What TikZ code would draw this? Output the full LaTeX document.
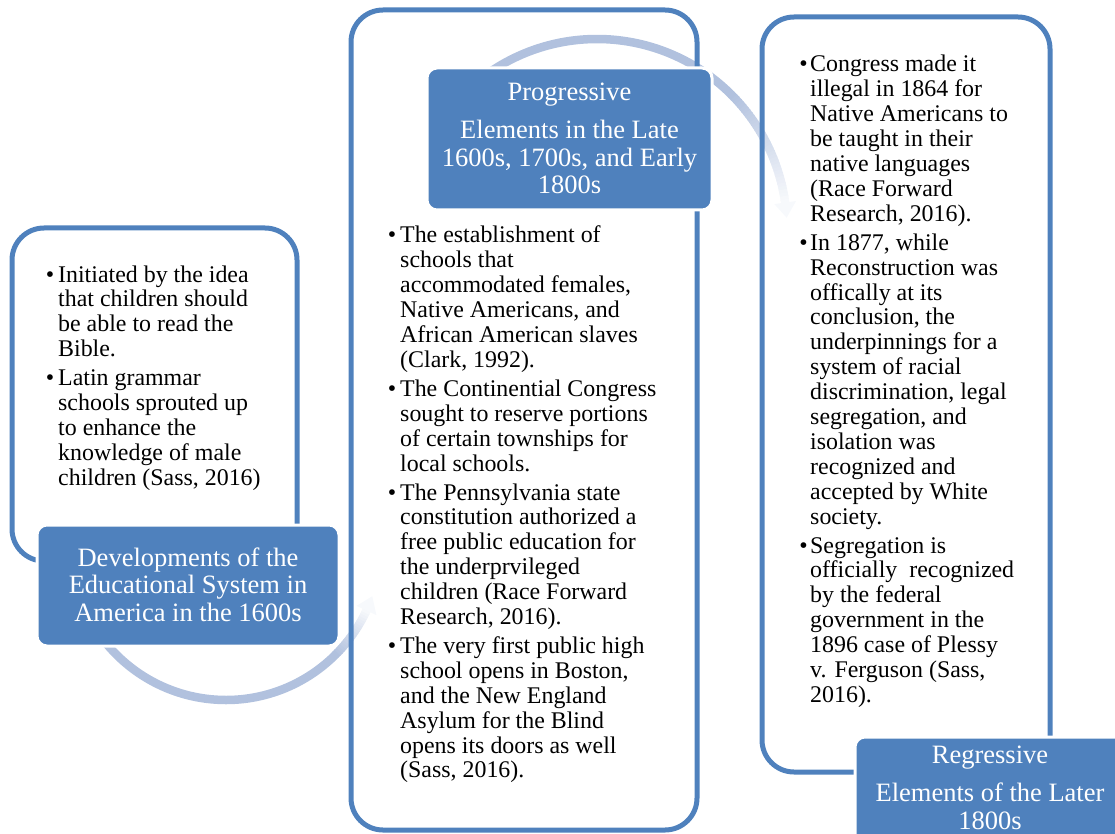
\documentclass[tikz,border=0pt]{standalone}
\usepackage{fontspec}
\setmainfont{Liberation Serif}
\usetikzlibrary{calc}

\definecolor{boxblue}{RGB}{79,129,189}
\definecolor{arcblue}{RGB}{177,193,222}

% bullet lists: hanging bullet in front of each item
\newlength\bulgap
\newcommand\itm{\par\noindent\llap{\textbullet\hspace{\bulgap}}}
\newcommand\bodyfont{\fontsize{23.9}{24.9}\selectfont}
\newcommand\headfont{\fontsize{26.5}{27.5}\selectfont}

\begin{document}
\begin{tikzpicture}[x=1pt,y=-1pt,
  panel/.style={draw=boxblue, line width=5pt, rounded corners=32pt, inner sep=0pt},
  headbox/.style={fill=boxblue, draw=white, line width=3pt, rounded corners=10pt, inner sep=0pt},
  headtext/.style={anchor=base, inner sep=0pt, text=white},
  bodytext/.style={anchor=base west, inner sep=0pt},
  arcline/.style={line width=8.5pt},
]
\useasboundingbox (0,0) rectangle (1115,834);
\clip (0,0) rectangle (1115,834);

% centres of the two circular arrows
\coordinate (c1) at (226,545);
\coordinate (c2) at (597,229);

% lower circular arrow, fading towards its head
\draw[arcline, arcblue] (c1) ++(150:155) arc[start angle=150, end angle=44.8, radius=155];
\foreach \a in {45,44,...,26}{
  \pgfmathtruncatemacro\pct{8+92*(\a-25)/20}
  \draw[arcline, arcblue!\pct!white] (c1) ++(\a:155) arc[start angle=\a, end angle=\a-1.25, radius=155];
}
\fill[arcblue!10!white] ($(c1)+(25:166)$) -- ($(c1)+(25:144)$) -- ($(c1)+(19.3:155)$) -- cycle;

% upper circular arrow, fading towards its head
\draw[arcline, arcblue] (c2) ++(235:190) arc[start angle=235, end angle=315.2, radius=190];
\foreach \a in {315,316,...,351}{
  \pgfmathtruncatemacro\pct{8+92*(352-\a)/37}
  \draw[arcline, arcblue!\pct!white] (c2) ++(\a:190) arc[start angle=\a, end angle=\a+1.25, radius=190];
}
\fill[arcblue!10!white] ($(c2)+(352:201)$) -- ($(c2)+(352:179)$) -- ($(c2)+(356.6:190)$) -- cycle;

% outlined panels
\node[panel, minimum width=285pt, minimum height=333pt] (p1) at (154.5,394.5) {};
\node[panel, minimum width=346pt, minimum height=820pt] (p2) at (524,420) {};
\node[panel, minimum width=288pt, minimum height=755pt] (p3) at (906,394.5) {};

% filled heading boxes
\node[headbox, minimum width=302pt, minimum height=121pt] (h1) at (188,585.5) {};
\node[headbox, minimum width=285pt, minimum height=142pt] (h2) at (569.5,139) {};
\node[headbox, minimum width=270pt, minimum height=142pt] (h3) at (990,808) {};

% headings
\node[headtext] (t1) at (188,566) {\begin{minipage}[t]{300pt}\headfont\centering
Developments of the\\Educational System in\\America in the 1600s\end{minipage}};
\node[headtext] (t2) at (569.5,100.7) {\begin{minipage}[t]{300pt}\headfont\centering
Progressive\\[10.8pt]Elements in the Late\\1600s, 1700s, and Early\\1800s\end{minipage}};
\node[headtext] (t3) at (990,763.3) {\begin{minipage}[t]{300pt}\headfont\centering
Regressive\\[11pt]Elements of the Later\\1800s\end{minipage}};

% bullet texts
\node[bodytext] (b1) at (58,282) {\begin{minipage}[t]{260pt}\bodyfont\raggedright
\setlength\parskip{4pt}\setlength\bulgap{4pt}%
\itm Initiated by the idea\\that children should\\be able to read the\\Bible.
\itm Latin grammar\\schools sprouted up\\to enhance the\\knowledge of male\\children (Sass, 2016)
\end{minipage}};

\node[bodytext] (b2) at (400,243) {\begin{minipage}[t]{300pt}\bodyfont\raggedright
\setlength\parskip{4pt}\setlength\bulgap{4pt}%
\itm The establishment of\\schools that\\accommodated females,\\Native Americans, and\\African American slaves\\(Clark, 1992).
\itm The Continential Congress\\sought to reserve portions\\of certain townships for\\local schools.
\itm The Pennsylvania state\\constitution authorized a\\free public education for\\the underprvileged\\children (Race Forward\\Research, 2016).
\itm The very first public high\\school opens in Boston,\\and the New England\\Asylum for the Blind\\opens its doors as well\\(Sass, 2016).
\end{minipage}};

\node[bodytext] (b3) at (810,72) {\begin{minipage}[t]{260pt}\bodyfont\raggedright
\setlength\parskip{4pt}\setlength\bulgap{2.5pt}%
\itm Congress made it\\illegal in 1864 for\\Native Americans to\\be taught in their\\native languages\\(Race Forward\\Research, 2016).
\itm In 1877, while\\Reconstruction was\\offically at its\\conclusion, the\\underpinnings for a\\system of racial\\discrimination, legal\\segregation, and\\isolation was\\recognized and\\accepted by White\\society.
\itm Segregation is\\officially\ \ recognized\\by the federal\\government in the\\1896 case of Plessy\\v. Ferguson (Sass,\\2016).
\end{minipage}};
\end{tikzpicture}
\end{document}
